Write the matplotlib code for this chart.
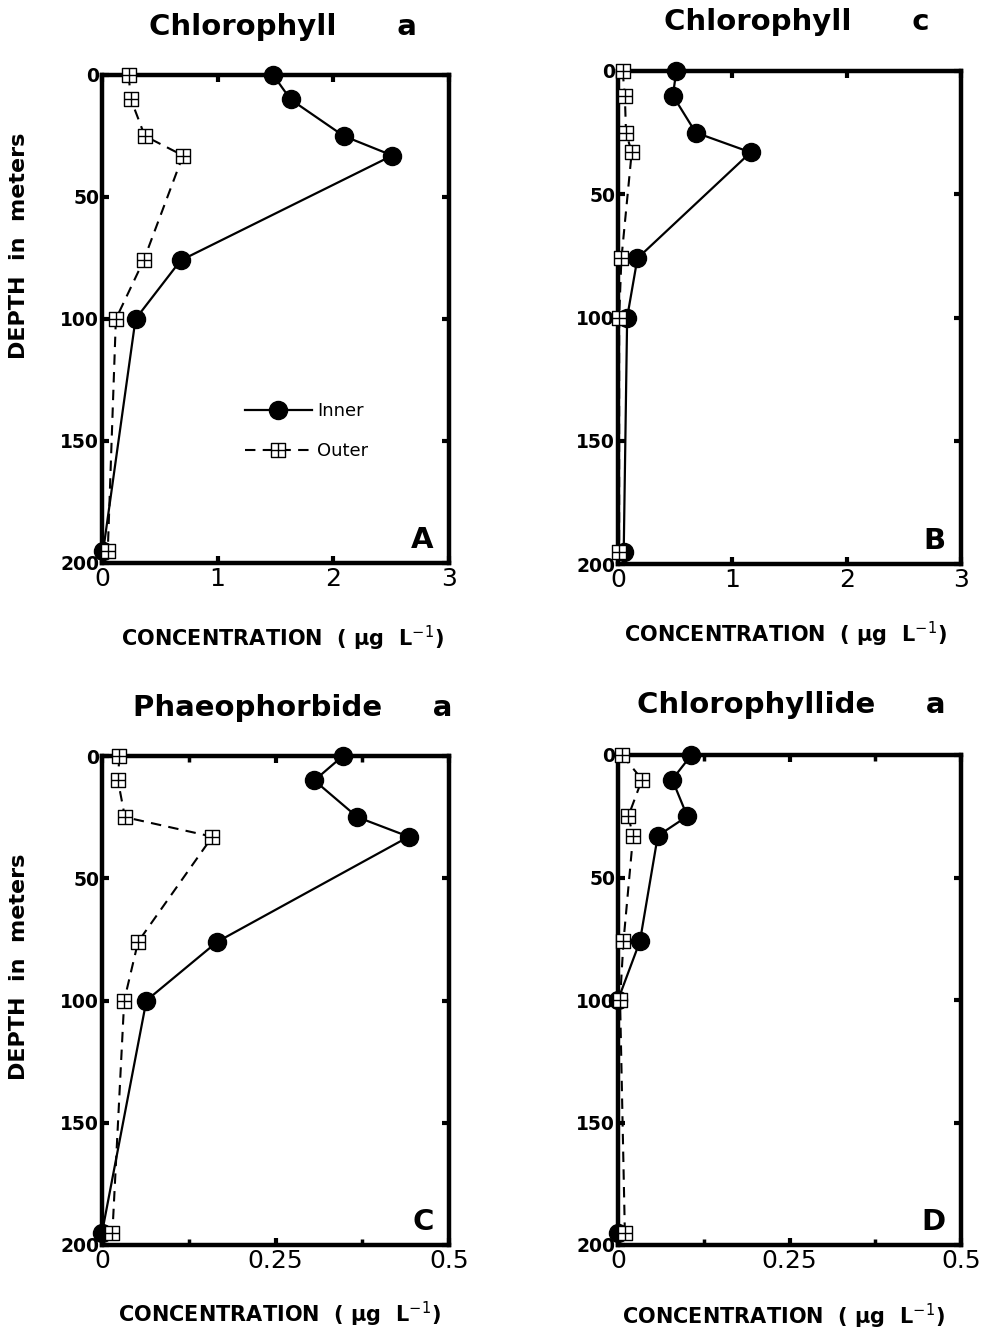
import matplotlib
matplotlib.use("Agg")
import matplotlib.pyplot as plt
from matplotlib.path import Path
from matplotlib.ticker import FixedLocator

# ---------------- data ----------------
depths = [0, 10, 25, 33, 76, 100, 195]

chla_inner = [1.48, 1.63, 2.09, 2.51, 0.68, 0.29, 0.01]
chla_outer = [0.23, 0.25, 0.37, 0.70, 0.36, 0.12, 0.05]

chlc_inner = [0.51, 0.48, 0.68, 1.16, 0.17, 0.08, 0.05]
chlc_outer = [0.04, 0.06, 0.07, 0.12, 0.03, 0.01, 0.01]

phaeo_inner = [0.347, 0.306, 0.368, 0.442, 0.166, 0.064, 0.0]
phaeo_outer = [0.025, 0.023, 0.033, 0.159, 0.052, 0.032, 0.015]

chlide_inner = [0.107, 0.079, 0.101, 0.058, 0.032, 0.0, 0.0]
chlide_outer = [0.006, 0.035, 0.015, 0.022, 0.008, 0.003, 0.01]

titles = ["Chlorophyll      a", "Chlorophyll      c",
          "Phaeophorbide     a", "Chlorophyllide     a"]
panel_letters = ["A", "B", "C", "D"]
xticks_top = [0, 1, 2, 3]
xticklabels_top = ["0", "1", "2", "3"]
xticks_bot = [0, 0.25, 0.5]
xticklabels_bot = ["0", "0.25", "0.5"]
xminor_bot = [0.125, 0.375]
yticks = [0, 50, 100, 150, 200]
yticklabels = ["0", "50", "100", "150", "200"]
series_labels = ["Inner", "Outer"]

# ---------------- style ----------------
FONT = "DejaVu Sans"
plt.rcParams["font.family"] = [FONT]
plt.rcParams["mathtext.fontset"] = "dejavusans"

# square-with-cross marker
verts = [(-1, -1), (1, -1), (1, 1), (-1, 1), (-1, -1),
         (0, -1), (0, 1), (-1, 0), (1, 0)]
codes = [Path.MOVETO, Path.LINETO, Path.LINETO, Path.LINETO, Path.CLOSEPOLY,
         Path.MOVETO, Path.LINETO, Path.MOVETO, Path.LINETO]
box_cross = Path(verts, codes)

W, H = 989, 1332
fig = plt.figure(figsize=(W / 100, H / 100), dpi=100)

def frac(left, top, right, bottom):
    return [left / W, 1 - bottom / H, (right - left) / W, (bottom - top) / H]

rects = [frac(102, 75, 449, 563), frac(618, 71, 961, 564),
         frac(102, 756, 449, 1245), frac(618, 755, 961, 1245)]

data = [(chla_inner, chla_outer), (chlc_inner, chlc_outer),
        (phaeo_inner, phaeo_outer), (chlide_inner, chlide_outer)]

xlabel_coords = [(0.52, -0.125), (0.487, -0.114), (0.51, -0.113), (0.483, -0.116)]
title_x = [0.52, 0.52, 0.55, 0.505]
title_gap = [40, 41, 40, 42]

for i, rect in enumerate(rects):
    ax = fig.add_axes(rect)
    inner, outer = data[i]
    l1, = ax.plot(inner, depths, color="black", lw=1.6, marker="o", ms=13,
                  mfc="black", mec="black", clip_on=False, zorder=4,
                  label=series_labels[0])
    l2, = ax.plot(outer, depths, color="black", lw=1.5, ls=(0, (5, 3.5)),
                  marker=box_cross, ms=10, mfc="white", mec="black", mew=1.0,
                  clip_on=False, zorder=5, label=series_labels[1])
    ax.set_ylim(200, 0)
    if i < 2:
        ax.set_xlim(0, 3)
        ax.set_xticks(xticks_top)
        ax.set_xticklabels(xticklabels_top)
    else:
        ax.set_xlim(0, 0.5)
        ax.set_xticks(xticks_bot)
        ax.set_xticklabels(xticklabels_bot)
        ax.xaxis.set_minor_locator(FixedLocator(xminor_bot))
        ax.tick_params(axis="x", which="minor", direction="in", length=4,
                       width=2.5, top=True, bottom=True)
    ax.set_yticks(yticks)
    ax.set_yticklabels(yticklabels)
    for sp in ax.spines.values():
        sp.set_linewidth(3.2)
    ax.tick_params(axis="both", which="major", direction="in", length=5,
                   width=3, top=True, right=True)
    ax.tick_params(axis="x", which="major", labelsize=18, pad=3)
    ax.tick_params(axis="y", which="major", labelsize=13.5, pad=2)
    for lab in ax.get_yticklabels():
        lab.set_fontweight("bold")

    ax.set_xlabel("CONCENTRATION  ( \u03bcg  L$^{-1}$)", fontsize=15,
                  fontweight="bold")
    ax.xaxis.set_label_coords(*xlabel_coords[i])

    if i in (0, 2):
        ax.set_ylabel("DEPTH  in  meters", fontsize=16, fontweight="bold")
        ax.yaxis.set_label_coords(-0.21, 0.650 if i == 0 else 0.569)

    # title
    ax.text(title_x[i], 1.0 + title_gap[i] / (rect[3] * H), titles[i],
            transform=ax.transAxes, ha="center", va="baseline",
            fontsize=21, fontweight="bold")
    # panel letter
    ax.text(0.955, 0.031, panel_letters[i], transform=ax.transAxes,
            ha="right", va="baseline", fontsize=21, fontweight="bold")

    if i == 0:
        ax.legend(handles=[l1, l2], loc="center left",
                  bbox_to_anchor=(0.412, 0.27), frameon=False, fontsize=13,
                  handlelength=3.7, handletextpad=0.3, labelspacing=1.2,
                  borderpad=0, borderaxespad=0)

fig.savefig("out.png", dpi=100)
